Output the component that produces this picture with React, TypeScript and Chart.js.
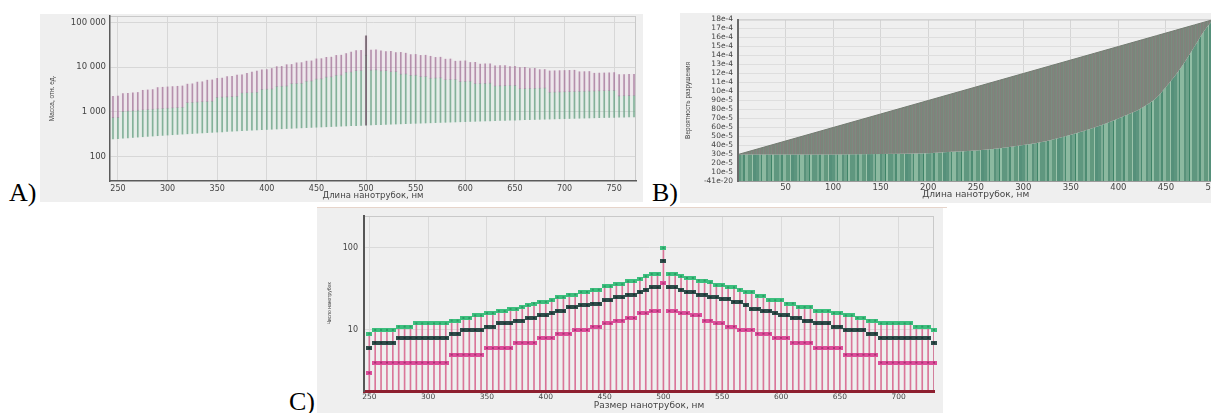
import React, { useEffect, useRef } from 'react';
import { Chart, registerables } from 'chart.js';

Chart.register(...registerables);

// ================= Panel A: mass vs nanotube length =================
const A_X = [
  245, 250, 255, 260, 265, 270, 275, 280, 285, 290,
  295, 300, 305, 310, 315, 320, 325, 330, 335, 340,
  345, 350, 355, 360, 365, 370, 375, 380, 385, 390,
  395, 400, 405, 410, 415, 420, 425, 430, 435, 440,
  445, 450, 455, 460, 465, 470, 475, 480, 485, 490,
  495, 500, 505, 510, 515, 520, 525, 530, 535, 540,
  545, 550, 555, 560, 565, 570, 575, 580, 585, 590,
  595, 600, 605, 610, 615, 620, 625, 630, 635, 640,
  645, 650, 655, 660, 665, 670, 675, 680, 685, 690,
  695, 700, 705, 710, 715, 720, 725, 730, 735, 740,
  745, 750, 755, 760, 765, 770,
];
const A_TOP = [
  2205, 2250, 2550, 2600, 2650, 2700, 3025, 3080, 3135, 3480,
  3540, 3600, 3660, 3720, 3780, 4160, 4225, 4620, 4690, 5100,
  5175, 5600, 5680, 6120, 6205, 6660, 6750, 7220, 7700, 8190,
  8690, 8800, 9315, 10250, 10375, 11340, 11475, 12470, 12615, 13640,
  13795, 15300, 15470, 16560, 16740, 18330, 18525, 20160, 21825, 23520,
  23760, 50000, 24240, 24480, 23175, 22360, 22575, 21200, 21400, 20520,
  19075, 19250, 18315, 18480, 17515, 16530, 16675, 15080, 15210, 13570,
  13685, 13800, 12705, 12810, 11685, 11780, 11875, 10710, 10795, 10880,
  10320, 10400, 9825, 9900, 9310, 9380, 8775, 8840, 8220, 8280,
  8340, 8400, 8460, 8520, 7865, 7920, 7975, 7300, 7350, 7400,
  7450, 7500, 6795, 6840, 6885, 6930,
];
const A_PINK = [
  735, 750, 1020, 1040, 1060, 1080, 1100, 1120, 1140, 1160,
  1180, 1200, 1220, 1240, 1260, 1600, 1625, 1650, 1675, 1700,
  1725, 2100, 2130, 2160, 2190, 2220, 2625, 2660, 2695, 2730,
  3160, 3200, 3240, 3690, 3735, 3780, 4250, 4300, 4350, 4840,
  4895, 5400, 5460, 5980, 6045, 6580, 6650, 7680, 7760, 8330,
  8415, 18500, 8585, 8670, 8240, 8320, 7875, 7950, 6955, 7020,
  6540, 6600, 6105, 6160, 5650, 5700, 5750, 5220, 5265, 5310,
  4760, 4800, 4840, 4270, 4305, 4340, 4375, 3780, 3810, 3840,
  3870, 3900, 3275, 3300, 3325, 3350, 3375, 3400, 2740, 2760,
  2780, 2800, 2820, 2840, 2860, 2880, 2900, 2920, 2940, 2960,
  2980, 3000, 2265, 2280, 2295, 2310,
];
const A_BASE = [
  245, 250, 255, 260, 265, 270, 275, 280, 285, 290,
  295, 300, 305, 310, 315, 320, 325, 330, 335, 340,
  345, 350, 355, 360, 365, 370, 375, 380, 385, 390,
  395, 400, 405, 410, 415, 420, 425, 430, 435, 440,
  445, 450, 455, 460, 465, 470, 475, 480, 485, 490,
  495, 500, 505, 510, 515, 520, 525, 530, 535, 540,
  545, 550, 555, 560, 565, 570, 575, 580, 585, 590,
  595, 600, 605, 610, 615, 620, 625, 630, 635, 640,
  645, 650, 655, 660, 665, 670, 675, 680, 685, 690,
  695, 700, 705, 710, 715, 720, 725, 730, 735, 740,
  745, 750, 755, 760, 765, 770,
];
const A_SPIKE_X = 500;
const A_X_TICKS = [250, 300, 350, 400, 450, 500, 550, 600, 650, 700, 750];
const A_Y_TICKS = [100, 1000, 10000, 100000];
const A_Y_LABELS = ['100', '1 000', '10 000', '100 000'];

// ================= Panel B: break probability =================
const B_X = [0, 100, 150, 200, 225, 250, 275, 300, 325, 350, 375, 400, 425, 440, 450, 460, 470, 480, 490, 500];
const B_UPPER = [
  0.0003, 0.0006, 0.00075, 0.0009, 0.000975, 0.00105, 0.001125, 0.0012, 0.001275, 0.00135,
  0.001425, 0.0015, 0.001575, 0.00162, 0.00165, 0.00168, 0.00171, 0.00174, 0.00177, 0.0018,
];
const B_LOWER = [
  0.0003, 0.0003, 0.000305, 0.000315, 0.00033, 0.000345, 0.00037, 0.000405, 0.00045, 0.00052,
  0.0006, 0.0007, 0.00082, 0.00093, 0.00105, 0.00118, 0.00133, 0.0015, 0.00167, 0.0018,
];
const B_X_TICKS = [50, 100, 150, 200, 250, 300, 350, 400, 450, 500];
const B_Y_TICKS = [
  0, 0.0001, 0.0002, 0.0003, 0.0004, 0.0005, 0.0006, 0.0007, 0.0008, 0.0009,
  0.001, 0.0011, 0.0012, 0.0013, 0.0014, 0.0015, 0.0016, 0.0017, 0.0018,
];
const B_Y_LABELS = [
  '-41e-20', '10e-5', '20e-5', '30e-5', '40e-5', '50e-5', '60e-5', '70e-5', '80e-5', '90e-5',
  '10e-4', '11e-4', '12e-4', '13e-4', '14e-4', '15e-4', '16e-4', '17e-4', '18e-4',
];

// ================= Panel C: number of nanotubes =================
const C_X = [
  250, 255, 260, 265, 270, 275, 280, 285, 290, 295,
  300, 305, 310, 315, 320, 325, 330, 335, 340, 345,
  350, 355, 360, 365, 370, 375, 380, 385, 390, 395,
  400, 405, 410, 415, 420, 425, 430, 435, 440, 445,
  450, 455, 460, 465, 470, 475, 480, 485, 490, 495,
  500, 505, 510, 515, 520, 525, 530, 535, 540, 545,
  550, 555, 560, 565, 570, 575, 580, 585, 590, 595,
  600, 605, 610, 615, 620, 625, 630, 635, 640, 645,
  650, 655, 660, 665, 670, 675, 680, 685, 690, 695,
  700, 705, 710, 715, 720, 725, 730,
];
const C_GREEN = [
  9, 10, 10, 10, 10, 11, 11, 11, 12, 12,
  12, 12, 12, 12, 13, 13, 14, 14, 15, 15,
  16, 16, 17, 17, 18, 18, 19, 20, 21, 22,
  22, 23, 25, 25, 27, 27, 29, 29, 31, 31,
  34, 34, 36, 36, 39, 39, 42, 45, 48, 48,
  100, 48, 48, 45, 43, 43, 40, 40, 38, 35,
  35, 33, 33, 31, 29, 29, 26, 26, 23, 23,
  23, 21, 21, 19, 19, 19, 17, 17, 17, 16,
  16, 15, 15, 14, 14, 13, 13, 12, 12, 12,
  12, 12, 12, 11, 11, 11, 10,
];
const C_DARK = [
  6, 7, 7, 7, 7, 8, 8, 8, 8, 8,
  8, 8, 8, 8, 9, 9, 10, 10, 10, 10,
  11, 11, 12, 12, 12, 13, 13, 14, 14, 15,
  15, 16, 17, 17, 19, 19, 20, 20, 21, 21,
  23, 23, 25, 25, 27, 27, 29, 31, 33, 33,
  70, 33, 33, 31, 29, 29, 27, 27, 25, 25,
  24, 24, 22, 22, 20, 18, 18, 17, 17, 16,
  15, 15, 14, 14, 13, 13, 12, 12, 12, 11,
  11, 10, 10, 10, 10, 9, 9, 8, 8, 8,
  8, 8, 8, 8, 8, 8, 7,
];
const C_PINK = [
  3, 4, 4, 4, 4, 4, 4, 4, 4, 4,
  4, 4, 4, 4, 5, 5, 5, 5, 5, 5,
  6, 6, 6, 6, 6, 7, 7, 7, 7, 8,
  8, 8, 9, 9, 9, 10, 10, 10, 11, 11,
  12, 12, 13, 13, 14, 14, 16, 16, 17, 17,
  37, 17, 17, 16, 16, 15, 15, 13, 13, 12,
  12, 11, 11, 10, 10, 10, 9, 9, 9, 8,
  8, 8, 7, 7, 7, 7, 6, 6, 6, 6,
  6, 5, 5, 5, 5, 5, 5, 4, 4, 4,
  4, 4, 4, 4, 4, 4, 4,
];
const C_X_TICKS = [250, 300, 350, 400, 450, 500, 550, 600, 650, 700];
const C_Y_TICKS = [10, 100];
const C_Y_LABELS = ['10', '100'];
const C_Y_MIN = 1.8;
const C_Y_MAX = 245;

// ================= helpers =================
const TICK_FONT = "'DejaVu Sans', Verdana, sans-serif";
const TITLE_V_FONT = "'Liberation Sans', Arial, sans-serif";

const fixSize = (size: number) => (scale: any) => {
  if (scale.isHorizontal()) scale.height = size;
  else scale.width = size;
  scale.paddingTop = 0;
  scale.paddingBottom = 0;
  scale.paddingLeft = 0;
  scale.paddingRight = 0;
};

const fixedTicks = (values: number[]) => (scale: any) => {
  scale.ticks = values.map((v) => ({ value: v }));
};

const framePlugin = (color: string, sides: string[]) => ({
  id: 'frame',
  beforeDatasetsDraw(chart: any) {
    const { ctx, chartArea } = chart;
    const { left, right, top, bottom } = chartArea;
    ctx.save();
    ctx.strokeStyle = color;
    ctx.lineWidth = 1;
    ctx.beginPath();
    if (sides.includes('top')) {
      ctx.moveTo(left, top + 0.5);
      ctx.lineTo(right, top + 0.5);
    }
    if (sides.includes('right')) {
      ctx.moveTo(right - 0.5, top);
      ctx.lineTo(right - 0.5, bottom);
    }
    ctx.stroke();
    ctx.restore();
  },
});

function stripePattern(stripes: [string, number][]) {
  const total = stripes.reduce((s, st) => s + st[1], 0);
  const c = document.createElement('canvas');
  c.width = total;
  c.height = 4;
  const g = c.getContext('2d')!;
  let x = 0;
  for (const [col, w] of stripes) {
    g.fillStyle = col;
    g.fillRect(x, 0, w, 4);
    x += w;
  }
  const ctx = document.createElement('canvas').getContext('2d')!;
  return ctx.createPattern(c, 'repeat');
}

function marker(fill: string, dot: string) {
  const c = document.createElement('canvas');
  c.width = 6;
  c.height = 4;
  const g = c.getContext('2d')!;
  g.fillStyle = fill;
  g.fillRect(0, 0, 6, 4);
  g.fillStyle = dot;
  g.fillRect(2, 1, 2, 2);
  return c;
}

// ================= chart configs =================
function makeA(): any {
  const seg = (lo: number[], hi: number[]) => A_X.map((x, i) => ({ x, y: [lo[i], hi[i]] }));
  const coreCol = (c: string) => A_X.map((x) => (x === A_SPIKE_X ? '#6e5e6a' : c));
  return {
    type: 'bar',
    data: {
      datasets: [
        { data: seg(A_PINK, A_TOP), backgroundColor: coreCol('rgba(165,120,155,0.78)'), barThickness: 1, order: 1 },
        { data: seg(A_BASE, A_PINK), backgroundColor: coreCol('rgba(105,160,132,0.78)'), barThickness: 1, order: 1 },
        { data: seg(A_PINK, A_TOP), backgroundColor: 'rgba(225,175,215,0.14)', barThickness: 4, order: 2 },
        { data: seg(A_BASE, A_PINK), backgroundColor: 'rgba(165,225,195,0.16)', barThickness: 4, order: 2 },
      ],
    },
    options: {
      animation: false,
      responsive: false,
      maintainAspectRatio: false,
      events: [],
      layout: { padding: { left: 0, right: 7, top: 2, bottom: 0 } },
      datasets: { bar: { grouped: false, borderWidth: 0 } },
      plugins: { legend: { display: false }, tooltip: { enabled: false } },
      scales: {
        x: {
          type: 'linear',
          min: 242,
          max: 772,
          offset: false,
          afterBuildTicks: fixedTicks(A_X_TICKS),
          afterFit: fixSize(21),
          grid: { color: '#d7d7d7', drawTicks: false, offset: false },
          border: { color: '#5a5a5a', width: 1.5, z: 1 },
          ticks: { padding: 3, color: '#444', autoSkip: false, maxRotation: 0, font: { family: TICK_FONT, size: 8 } },
          title: {
            display: true,
            text: 'Длина нанотрубок, нм',
            color: '#444',
            font: { family: TICK_FONT, size: 8.5 },
            padding: { top: 0, bottom: 1 },
          },
        },
        y: {
          type: 'logarithmic',
          min: 28,
          max: 140000,
          afterBuildTicks: fixedTicks(A_Y_TICKS),
          afterFit: fixSize(70),
          grid: { color: '#d7d7d7', drawTicks: false },
          border: { color: '#5a5a5a', width: 1.5, z: 1 },
          ticks: {
            padding: 4,
            color: '#444',
            autoSkip: false,
            font: { family: TICK_FONT, size: 8.5 },
            callback: (_v: any, i: number) => A_Y_LABELS[i],
          },
          title: {
            display: true,
            text: 'Масса, отн. ед.',
            color: '#444',
            font: { family: TITLE_V_FONT, size: 6.5 },
            padding: { top: 8, bottom: 0 },
          },
        },
      },
    },
    plugins: [framePlugin('#c9c9c9', ['top', 'right'])],
  };
}

function makeB(): any {
  const grayPat = stripePattern([
    ['#7d857a', 1], ['#85807e', 1], ['#77887c', 1], ['#80847a', 1], ['#7a8b80', 1],
    ['#867f7d', 1], ['#7b867b', 1], ['#7f8a7f', 1], ['#837f7c', 1], ['#78877b', 1],
    ['#7e8279', 1], ['#7b8c81', 1],
  ]);
  const greenPat = stripePattern([
    ['#5c957e', 3], ['#80ae97', 2], ['#4a8a70', 1], ['#8cb9a0', 4], ['#5a927b', 2],
    ['#6fa38b', 3], ['#3f8468', 1], ['#93bfa6', 2], ['#5f977f', 5], ['#7aab93', 2],
    ['#4e8c73', 2], ['#88b59d', 3], ['#62997f', 4], ['#9cc3ab', 1], ['#55907a', 3],
  ]);
  return {
    type: 'line',
    data: {
      datasets: [
        {
          data: B_X.map((x, i) => ({ x, y: B_UPPER[i] })),
          fill: '+1',
          backgroundColor: grayPat,
          borderColor: '#737b71',
          borderWidth: 1,
          pointRadius: 0,
          tension: 0,
        },
        {
          data: B_X.map((x, i) => ({ x, y: B_LOWER[i] })),
          fill: 'origin',
          backgroundColor: greenPat,
          borderColor: 'rgba(0,0,0,0)',
          borderWidth: 0,
          pointRadius: 0,
          cubicInterpolationMode: 'monotone',
        },
      ],
    },
    options: {
      animation: false,
      responsive: false,
      maintainAspectRatio: false,
      events: [],
      layout: { padding: { left: 0, right: 11.5, top: 6.5, bottom: 0 } },
      plugins: { legend: { display: false }, tooltip: { enabled: false } },
      scales: {
        x: {
          type: 'linear',
          min: 0,
          max: 500,
          afterBuildTicks: fixedTicks(B_X_TICKS),
          afterFit: fixSize(21.5),
          grid: { color: '#d5d5d5', drawTicks: false },
          border: { color: '#9a9a9a', width: 1, z: 1 },
          ticks: { padding: 1, color: '#444', autoSkip: false, maxRotation: 0, font: { family: TICK_FONT, size: 8.5 } },
          title: {
            display: true,
            text: 'Длина нанотрубок, нм',
            color: '#444',
            font: { family: TICK_FONT, size: 9 },
            padding: { top: 0, bottom: 3 },
          },
        },
        y: {
          type: 'linear',
          min: 0,
          max: 0.0018,
          afterBuildTicks: fixedTicks(B_Y_TICKS),
          afterFit: fixSize(58),
          grid: { color: '#dedede', drawTicks: false },
          border: { color: '#6a6a6a', width: 2, z: 1 },
          ticks: {
            padding: 5,
            color: '#444',
            autoSkip: false,
            font: { family: TICK_FONT, size: 7.5 },
            callback: (_v: any, i: number) => B_Y_LABELS[i],
          },
          title: {
            display: true,
            text: 'Вероятность разрушения',
            color: '#444',
            font: { family: TITLE_V_FONT, size: 6.5 },
            padding: { top: 4, bottom: 0 },
          },
        },
      },
    },
    plugins: [framePlugin('#c9c9c9', ['top'])],
  };
}

function makeC(): any {
  const greenM = marker('#3dbf7e', '#2b9c63');
  const darkM = marker('#2f4c4a', '#1c3332');
  const pinkM = marker('#dc4e9a', '#a92f70');
  const pts = (arr: number[]) => C_X.map((x, i) => ({ x, y: arr[i] }));
  const lineDs = (arr: number[], style: any) => ({
    type: 'line',
    data: pts(arr),
    showLine: false,
    pointStyle: style,
    pointRadius: 3,
    pointHoverRadius: 3,
    order: 0,
    clip: false,
  });
  return {
    type: 'bar',
    data: {
      datasets: [
        lineDs(C_GREEN, greenM),
        lineDs(C_DARK, darkM),
        lineDs(C_PINK, pinkM),
        {
          type: 'bar',
          data: C_X.map((x, i) => ({ x, y: [C_Y_MIN, C_GREEN[i]] })),
          backgroundColor: 'rgba(214,96,138,0.85)',
          barThickness: 1,
          borderWidth: 0,
          grouped: false,
          order: 5,
        },
      ],
    },
    options: {
      animation: false,
      responsive: false,
      maintainAspectRatio: false,
      events: [],
      layout: { padding: { left: 0, right: 9, top: 8, bottom: 0 } },
      plugins: { legend: { display: false }, tooltip: { enabled: false } },
      scales: {
        x: {
          type: 'linear',
          min: 245.5,
          max: 730,
          offset: false,
          afterBuildTicks: fixedTicks(C_X_TICKS),
          afterFit: fixSize(22),
          grid: { color: '#dadada', drawTicks: false, offset: false },
          border: { color: '#8d1f2f', width: 3, z: 1 },
          ticks: { padding: 2, color: '#444', autoSkip: false, maxRotation: 0, font: { family: TICK_FONT, size: 7.5 } },
          title: {
            display: true,
            text: 'Размер нанотрубок, нм',
            color: '#444',
            font: { family: TICK_FONT, size: 9 },
            padding: { top: 0, bottom: 1.5 },
          },
        },
        y: {
          type: 'logarithmic',
          min: C_Y_MIN,
          max: C_Y_MAX,
          afterBuildTicks: fixedTicks(C_Y_TICKS),
          afterFit: fixSize(47),
          grid: { color: '#dadada', drawTicks: false },
          border: { color: '#555555', width: 2, z: 1 },
          ticks: {
            padding: 6,
            color: '#444',
            autoSkip: false,
            font: { family: TICK_FONT, size: 8 },
            callback: (_v: any, i: number) => C_Y_LABELS[i],
          },
          title: {
            display: true,
            text: 'Число нанотрубок',
            color: '#444',
            font: { family: TITLE_V_FONT, size: 5 },
            padding: { top: 10, bottom: 0 },
          },
        },
      },
    },
    plugins: [framePlugin('#c9c9c9', ['top', 'right'])],
  };
}

// ================= components =================
function ChartBox(props: { left: number; top: number; width: number; height: number; make: () => any }) {
  const { left, top, width, height, make } = props;
  const ref = useRef<HTMLCanvasElement | null>(null);
  useEffect(() => {
    if (!ref.current) return;
    const chart = new Chart(ref.current, make());
    return () => chart.destroy();
  }, []);
  return (
    <div style={{ position: 'absolute', left, top, width, height, background: '#efefef' }}>
      <canvas ref={ref} width={width} height={height} style={{ display: 'block', width, height }} />
    </div>
  );
}

function PanelLabel(props: { text: string; left: number; top: number }) {
  return (
    <div
      style={{
        position: 'absolute',
        left: props.left,
        top: props.top,
        fontFamily: "'Liberation Serif', 'Times New Roman', serif",
        fontSize: 26,
        lineHeight: '26px',
        color: '#000',
        whiteSpace: 'nowrap',
      }}
    >
      {props.text}
    </div>
  );
}

export default function App() {
  return (
    <div
      style={{
        position: 'fixed',
        left: 0,
        top: 0,
        width: 1211,
        height: 413,
        overflow: 'hidden',
        background: '#ffffff',
      }}
    >
      <ChartBox left={40} top={14} width={603} height={188} make={makeA} />
      <ChartBox left={680} top={13} width={545} height={190} make={makeB} />
      <div style={{ position: 'absolute', left: 317, top: 207, width: 630, height: 1, background: '#e6d4ca' }} />
      <ChartBox left={317} top={208} width={626} height={205} make={makeC} />
      <PanelLabel text="A)" left={9} top={180} />
      <PanelLabel text="B)" left={652} top={180} />
      <PanelLabel text="C)" left={289} top={389} />
    </div>
  );
}
